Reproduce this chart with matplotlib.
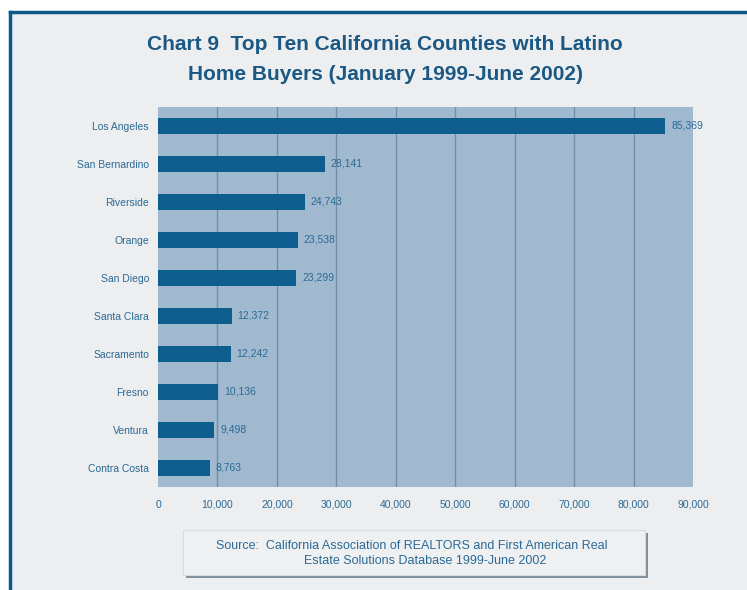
import matplotlib
matplotlib.use("Agg")
import matplotlib.pyplot as plt
from matplotlib.patches import Rectangle
from matplotlib.lines import Line2D

counties = ["Los Angeles", "San Bernardino", "Riverside", "Orange", "San Diego",
            "Santa Clara", "Sacramento", "Fresno", "Ventura", "Contra Costa"]
buyers = [85369, 28141, 24743, 23538, 23299, 12372, 12242, 10136, 9498, 8763]
xticks = [0, 10000, 20000, 30000, 40000, 50000, 60000, 70000, 80000, 90000]
xtick_labels = ["0", "10,000", "20,000", "30,000", "40,000", "50,000",
                "60,000", "70,000", "80,000", "90,000"]

W, H = 747, 590
plt.rcParams["font.family"] = ["Liberation Sans", "DejaVu Sans"]
fig = plt.figure(figsize=(W / 100, H / 100), dpi=100)
fig.patch.set_facecolor("white")

# page background with dark blue frame on top and left
fig.patches.append(Rectangle((10 / W, 0), 1, 1 - 12 / H, transform=fig.transFigure,
                             facecolor="#eceeef", edgecolor="none", zorder=-10))
fig.lines.append(Line2D([10 / W, 10 / W], [0, 1 - 12 / H], transform=fig.transFigure,
                        color="#0b5a8a", lw=2.5, zorder=-5))
fig.lines.append(Line2D([10 / W, 1], [1 - 12 / H, 1 - 12 / H], transform=fig.transFigure,
                        color="#0b5a8a", lw=2.5, zorder=-5))

title_color = "#1b5884"
fig.text(385 / W, 1 - 45 / H, "Chart 9  Top Ten California Counties with Latino",
         ha="center", va="center", fontsize=15, fontweight="bold", color=title_color)
fig.text(385 / W, 1 - 74 / H, "Home Buyers (January 1999-June 2002)",
         ha="center", va="center", fontsize=15, fontweight="bold", color=title_color)

label_color = "#2a6a95"
left, right, top, bottom = 158, 693, 107, 487
ax = fig.add_axes([left / W, 1 - bottom / H, (right - left) / W, (bottom - top) / H])
ax.set_zorder(5)
ax.set_facecolor("#a0b9cf")
ypos = list(range(len(counties)))
ax.barh(ypos, buyers, height=0.4, color="#0d5e8f", zorder=3)
ax.set_xlim(0, 90000)
ax.set_ylim(len(counties) - 0.5, -0.5)
ax.set_xticks(xticks)
ax.set_xticklabels(xtick_labels)
ax.set_yticks(ypos)
ax.set_yticklabels(counties)
ax.tick_params(axis="both", length=0, labelsize=7.5, colors=label_color)
ax.tick_params(axis="y", pad=6.5)
ax.tick_params(axis="x", pad=9)
for x in xticks[1:-1]:
    ax.axvline(x, color="#6f8ea8", lw=1.0, zorder=1)
for s in ax.spines.values():
    s.set_visible(False)
for y, v in zip(ypos, buyers):
    ax.annotate(f"{v:,}", (v, y), xytext=(4, 0), textcoords="offset points",
                va="center", ha="left", fontsize=7.5, color=label_color, zorder=4)

# source box with shadow
bx0, by0, bx1, by1 = 183, 530, 645, 575
fig.patches.append(Rectangle(((bx0 + 3) / W, 1 - (by1 + 3) / H), (bx1 - bx0) / W,
                             (by1 - by0) / H, transform=fig.transFigure,
                             facecolor="#7f8f9c", edgecolor="none", zorder=1))
fig.patches.append(Rectangle((bx0 / W, 1 - by1 / H), (bx1 - bx0) / W, (by1 - by0) / H,
                             transform=fig.transFigure, facecolor="#eef0f1",
                             edgecolor="#d6dde2", lw=0.8, zorder=2))
fig.text(412 / W, 1 - 546 / H,
         "Source:  California Association of REALTORS and First American Real",
         ha="center", va="center", fontsize=9, color=label_color, zorder=3)
fig.text(425 / W, 1 - 561 / H,
         "Estate Solutions Database 1999-June 2002",
         ha="center", va="center", fontsize=9, color=label_color, zorder=3)

fig.savefig("out.png", dpi=100)
